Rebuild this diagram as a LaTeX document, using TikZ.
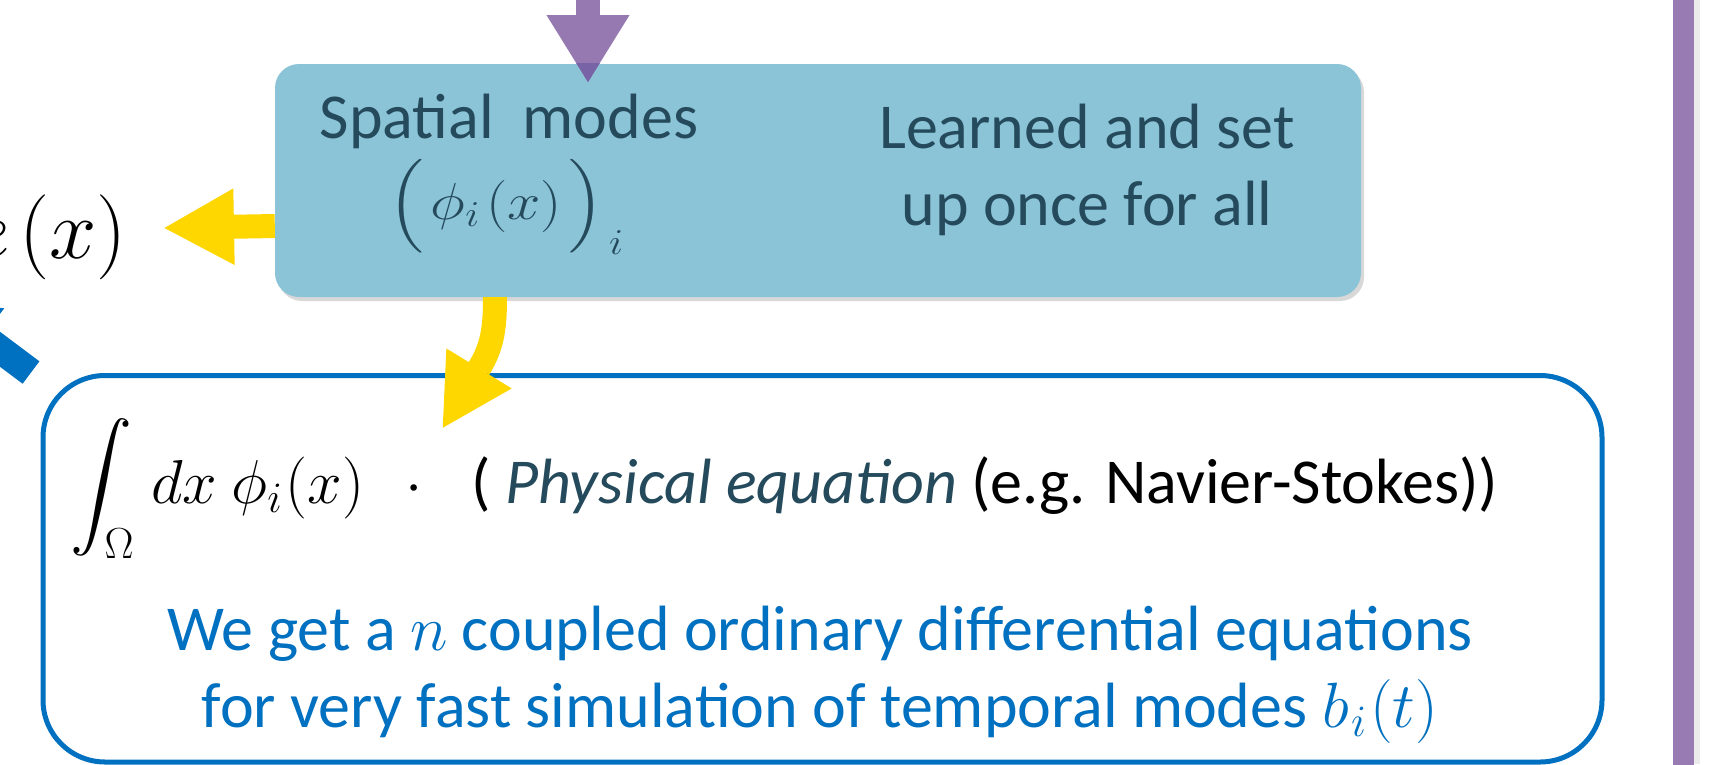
\RequirePackage{fix-cm}
\documentclass[tikz,border=0pt]{standalone}
\usepackage{amsmath}
\DeclareFontFamily{OMX}{cmex}{}
\DeclareFontShape{OMX}{cmex}{m}{n}{<-> cmex10}{}
\usepackage{fontspec}
\setmainfont{Carlito}
\usetikzlibrary{arrows.meta,shadows}
\definecolor{boxfill}{RGB}{139,195,215}
\definecolor{boxtext}{RGB}{36,74,92}
\definecolor{ppl}{RGB}{151,121,177}
\definecolor{pplover}{RGB}{119,99,166}
\definecolor{pplbar}{RGB}{153,123,179}
\definecolor{yel}{RGB}{255,215,0}
\definecolor{blu}{RGB}{0,112,192}
\begin{document}
\begin{tikzpicture}[x=1pt,y=-1pt,
  lbbox/.style={fill=boxfill, rounded corners=24pt, minimum width=1086pt, minimum height=233pt, inner sep=0pt,
    drop shadow={shadow xshift=3pt,shadow yshift=-4pt,opacity=0.3}},
  eqbox/.style={draw=blu, line width=5pt, rounded corners=62pt, minimum width=1559pt, minimum height=386.5pt, inner sep=0pt},
  txt/.style={inner sep=0pt, font=\fontsize{64}{76}\selectfont},
  barstyle/.style={fill=pplbar, minimum width=21pt, minimum height=780pt, inner sep=0pt},
  yarrow/.style={draw=yel, line width=24pt, -{Triangle[length=71pt,width=71pt]}},
  yshaft/.style={draw=yel, line width=24pt},
  parrow/.style={line width=24pt, -{Triangle[length=68pt,width=78pt]}},
  barrow/.style={draw=blu, line width=28pt, -{Triangle[length=60pt,width=66pt]}}
]
\useasboundingbox (0,0) rectangle (1724,764);
\clip (0,0) rectangle (1724,764);
\fill[white] (0,0) rectangle (1724,764);

% right purple bar with faint shadow
\fill[black,opacity=0.08] (1694,0) rectangle (1700,764);
\node[barstyle] (bar) at (1683.5,382) {};

% bottom equation box
\node[eqbox] (eq) at (822.5,568.75) {};

% light blue box
\node[lbbox] (sm) at (818,180.5) {};

% texts in light blue box
\node[txt, text=boxtext, anchor=base] (spt) at (509,138) {Spatial\ \ modes};
\node[inner sep=0pt, text=boxtext, font=\fontsize{52}{60}\selectfont] (phi) at (506,207)
  {\scalebox{1.15}[1]{$\Bigl(\mkern2mu\phi_i\mkern2mu(x)\mkern2mu\Bigr)_{\mkern2mu i}$}};
\node[txt, text=boxtext, anchor=base] (l1) at (1087,148) {Learned and set};
\node[txt, text=boxtext, anchor=base] (l2) at (1087,225) {up once for all};

% left clipped formula
\node[inner sep=0pt, anchor=base east, font=\fontsize{85}{100}\selectfont] (lx) at (127,258) {$e\mkern2mu(x)$};

% equation box contents
\node[inner sep=0pt, anchor=base west, font=\fontsize{62}{72}\selectfont] (intg) at (70,503)
  {$\displaystyle\int_{\Omega}\mkern2mu dx\ \phi_i\mkern1mu(x)\ \mkern8mu\cdot$};
\node[txt, anchor=base west] (phys) at (471,503) {( \textcolor{boxtext}{\itshape Physical equation} (e.g. Navier-Stokes))};
\node[txt, text=blu, anchor=base] (b1) at (820,650) {We get a $n$ coupled ordinary differential equations};
\node[txt, text=blu, anchor=base] (b2) at (820,727) {for very fast simulation of temporal modes $b_{\mkern1mu i}\mkern1mu(t)$};

% yellow arrows
\coordinate (yltip) at (163,228);
\draw[yarrow] (sm.west |- 0,226) -- (yltip);
\coordinate (ydbase) at (479,368.5);
\coordinate (ydtip) at (442,429);
\draw[yshaft] (sm.south -| 495,0) .. controls (495,330) and (492,347) .. (ydbase);
\draw[yarrow] (ydbase) -- (ydtip);

% purple arrow from top (lighter over white, darker where it overlaps the box)
\coordinate (ptop) at (588,-10);
\coordinate (ptip) at (588,83);
\draw[parrow, draw=ppl] (ptop) -- (ptip);
\begin{scope}
  \clip (sm.north west) rectangle (sm.south east);
  \draw[parrow, draw=pplover] (ptop) -- (ptip);
\end{scope}

% blue arrow at left edge
\coordinate (bstart) at (31,372.5);
\coordinate (btip) at (-65,300.5);
\draw[barrow] (bstart) -- (btip);
\end{tikzpicture}
\end{document}
